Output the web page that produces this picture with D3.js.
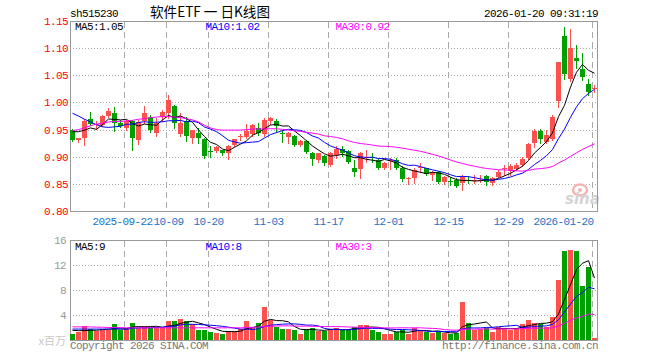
<!DOCTYPE html>
<html><head><meta charset="utf-8">
<script src="https://cdn.jsdelivr.net/npm/d3@7/dist/d3.min.js"></script>
<style>
body{margin:0;background:#fff}
svg{display:block}
.m{font-family:"Liberation Mono","DejaVu Sans Mono",monospace;font-size:11px;letter-spacing:-0.6px}
</style>
</head><body>
<svg id="c" width="660" height="360"></svg>
<script>
// ---------- data ----------
const code = "sh515230";
const title = "软件ETF 一 日K线图";
const stamp = "2026-01-20 09:31:19";

const dates = [
"2025-09-09","2025-09-10","2025-09-11","2025-09-12","2025-09-15","2025-09-16","2025-09-17","2025-09-18","2025-09-19","2025-09-22",
"2025-09-23","2025-09-24","2025-09-25","2025-09-26","2025-09-29","2025-09-30","2025-10-09","2025-10-10","2025-10-13","2025-10-14",
"2025-10-15","2025-10-16","2025-10-17","2025-10-20","2025-10-21","2025-10-22","2025-10-23","2025-10-24","2025-10-27","2025-10-28",
"2025-10-29","2025-10-30","2025-10-31","2025-11-03","2025-11-04","2025-11-05","2025-11-06","2025-11-07","2025-11-10","2025-11-11",
"2025-11-12","2025-11-13","2025-11-14","2025-11-17","2025-11-18","2025-11-19","2025-11-20","2025-11-21","2025-11-24","2025-11-25",
"2025-11-26","2025-11-27","2025-11-28","2025-12-01","2025-12-02","2025-12-03","2025-12-04","2025-12-05","2025-12-08","2025-12-09",
"2025-12-10","2025-12-11","2025-12-12","2025-12-15","2025-12-16","2025-12-17","2025-12-18","2025-12-19","2025-12-22","2025-12-23",
"2025-12-24","2025-12-25","2025-12-26","2025-12-29","2025-12-30","2025-12-31","2026-01-05","2026-01-06","2026-01-07","2026-01-08",
"2026-01-09","2026-01-12","2026-01-13","2026-01-14","2026-01-15","2026-01-16","2026-01-19","2026-01-20"];

const open = [
0.950,0.930,0.935,0.969,0.959,0.959,0.975,0.980,0.962,0.952,
0.966,0.931,0.966,0.973,0.944,0.973,0.981,0.994,0.941,0.966,
0.934,0.944,0.933,0.911,0.910,0.912,0.907,0.921,0.938,0.937,
0.942,0.953,0.941,0.966,0.966,0.944,0.937,0.938,0.922,0.929,
0.907,0.894,0.901,0.885,0.904,0.915,0.910,0.880,0.877,0.899,
0.900,0.894,0.880,0.893,0.894,0.880,0.860,0.860,0.879,0.879,
0.866,0.871,0.854,0.856,0.857,0.851,0.857,0.856,0.857,0.865,
0.851,0.863,0.878,0.874,0.877,0.885,0.897,0.925,0.947,0.928,
0.932,1.002,1.123,1.043,1.082,1.062,1.034,1.025];
const high = [
0.951,0.935,0.970,0.982,0.966,0.976,0.989,0.992,0.967,0.968,
0.968,0.968,0.993,0.977,0.971,0.986,1.013,0.996,0.981,0.974,
0.950,0.952,0.934,0.920,0.919,0.913,0.921,0.932,0.941,0.960,
0.960,0.962,0.972,0.974,0.969,0.949,0.946,0.940,0.931,0.931,
0.909,0.907,0.903,0.909,0.919,0.920,0.912,0.894,0.909,0.912,
0.907,0.897,0.890,0.897,0.897,0.883,0.863,0.879,0.889,0.880,
0.873,0.873,0.865,0.863,0.860,0.866,0.865,0.866,0.866,0.866,
0.863,0.875,0.885,0.887,0.888,0.900,0.926,0.951,0.951,0.949,
0.976,1.075,1.139,1.135,1.106,1.091,1.043,1.032];
const low = [
0.929,0.928,0.922,0.958,0.951,0.957,0.973,0.948,0.954,0.949,
0.912,0.923,0.962,0.946,0.939,0.965,0.972,0.953,0.939,0.929,
0.926,0.926,0.898,0.900,0.908,0.904,0.895,0.920,0.930,0.934,
0.938,0.940,0.938,0.960,0.946,0.928,0.925,0.919,0.920,0.907,
0.885,0.891,0.885,0.883,0.898,0.901,0.889,0.864,0.861,0.891,
0.891,0.878,0.878,0.878,0.878,0.856,0.850,0.851,0.872,0.866,
0.857,0.851,0.849,0.848,0.845,0.839,0.852,0.851,0.854,0.848,
0.848,0.862,0.866,0.866,0.876,0.882,0.895,0.917,0.926,0.926,
0.930,0.991,1.043,1.040,1.063,1.042,1.014,1.020];
const close = [
0.931,0.934,0.966,0.961,0.960,0.975,0.985,0.963,0.956,0.966,
0.934,0.964,0.981,0.949,0.963,0.982,1.005,0.962,0.963,0.938,
0.949,0.935,0.901,0.910,0.918,0.907,0.920,0.932,0.939,0.948,
0.959,0.944,0.968,0.972,0.956,0.943,0.944,0.922,0.929,0.909,
0.895,0.906,0.888,0.907,0.915,0.907,0.891,0.871,0.907,0.900,
0.899,0.880,0.889,0.894,0.880,0.859,0.861,0.875,0.881,0.869,
0.871,0.854,0.863,0.855,0.846,0.863,0.855,0.857,0.858,0.853,
0.861,0.872,0.879,0.882,0.885,0.895,0.924,0.948,0.933,0.940,
0.974,1.074,1.053,1.100,1.077,1.046,1.020,1.026];
// volume, millions
const volume = [
1.04,1.25,2.32,1.79,1.41,1.57,1.57,2.64,1.57,1.79,
2.80,1.95,2.32,1.95,1.95,1.95,2.96,2.96,3.44,2.96,
2.64,1.68,1.68,1.36,1.20,1.04,1.52,1.52,1.79,3.12,
1.95,2.80,5.36,3.28,2.16,1.84,1.84,1.68,1.04,1.84,
2.00,1.41,1.41,1.84,1.95,1.57,1.57,2.16,2.48,2.48,
1.68,1.36,1.04,1.04,1.36,1.68,1.04,1.95,1.62,1.30,
1.09,1.30,1.09,0.99,1.15,6.16,2.80,1.68,1.84,1.95,
1.36,2.16,1.95,1.68,1.95,2.64,3.28,2.80,2.58,2.16,
3.76,9.57,14.32,14.48,14.32,8.72,11.65,0.35];

// moving-average values before each window is complete
const ma5Head  = [0.946,0.946,0.949,0.953];
const ma10Head = [0.980,0.975,0.969,0.964,0.959,0.955,0.954,0.955,0.956];
const ma30Head = [0.948,0.950,0.953,0.957,0.960,0.962,0.964,0.965,0.965,0.966,
                  0.967,0.969,0.970,0.972,0.973,0.974,0.974,0.973,0.972,0.970,
                  0.968,0.964,0.958,0.953,0.950,0.949,0.949,0.949,0.949];
const vma5Head  = [1.55,1.50,1.50,1.55];
const vma10Head = [1.75,1.75,1.75,1.75,1.75,1.75,1.75,1.78,1.80];
const vma30Head = [2.10,2.10,2.10,2.10,2.05,2.05,2.00,2.00,2.00,1.95,
                   1.95,1.95,1.95,1.95,1.95,1.95,1.95,1.95,1.95,1.95,
                   1.95,1.95,1.95,1.95,1.95,1.95,1.95,1.95,1.95];

const priceTicks = [0.80,0.85,0.90,0.95,1.00,1.05,1.10,1.15];
const volTicks = [4,8,12,16];
const tickDates  = ["2025-09-22","2025-10-09","2025-10-20","2025-11-03","2025-11-17","2025-12-01","2025-12-15","2025-12-29","2026-01-20"];
const tickLabels = ["2025-09-22","10-09","10-20","11-03","11-17","12-01","12-15","12-29","2026-01-20"];
const priceLegend = [["MA5",1.05],["MA10",1.02],["MA30",0.92]];
const volLegend = [["MA5",9],["MA10",8],["MA30",3]];

// ---------- drawing ----------
const RED="#ff5050", GREEN="#00a000", MAC=["#000000","#0000ff","#ff00ff"];
const svg = d3.select("#c");
const X0=70, X1=598;
const x = d3.scaleBand().domain(dates).range([X0,X1]).paddingInner(1/6).paddingOuter(1/12);
const px = d => Math.floor(x(d));
const yP = d3.scaleLinear().domain([0.80,1.15]).range([211,21]);
const yV = d3.scaleLinear().domain([0,16]).range([340,240]);
const R = Math.round;

function movAvg(arr,n,head){return arr.map((_,i)=> i<n-1 ? head[i] : d3.mean(arr.slice(i-n+1,i+1)));}
const pMA=[movAvg(close,5,ma5Head),movAvg(close,10,ma10Head),movAvg(close,30,ma30Head)];
const vMA=[movAvg(volume,5,vma5Head),movAvg(volume,10,vma10Head),movAvg(volume,30,vma30Head)];

function panelGrid(top,bottom,hTicks,yS){
  const g=svg.append("g");
  g.selectAll("line.h").data(hTicks).join("line")
    .attr("x1",X0).attr("x2",X1).attr("y1",d=>R(yS(d))+0.5).attr("y2",d=>R(yS(d))+0.5)
    .attr("stroke","#aaa").attr("stroke-dasharray","1,2").attr("shape-rendering","crispEdges");
  g.selectAll("line.v").data(tickDates).join("line")
    .attr("x1",d=>px(d)+0.5).attr("x2",d=>px(d)+0.5).attr("y1",top).attr("y2",bottom)
    .attr("stroke","#aaa").attr("stroke-dasharray","6,4").attr("shape-rendering","crispEdges");
}
panelGrid(22,211,priceTicks.slice(1,-1),yP);
panelGrid(241,340,volTicks.slice(0,-1),yV);

// watermark
const wm=svg.append("g");
wm.append("ellipse").attr("cx",580).attr("cy",190).attr("rx",7).attr("ry",5.5)
  .attr("fill","none").attr("stroke","#f3b4b4").attr("stroke-width",2.5);
wm.append("circle").attr("cx",580).attr("cy",190).attr("r",2).attr("fill","#f3b4b4");
wm.append("text").attr("x",565).attr("y",204).text("sina")
  .attr("font-family","DejaVu Sans").attr("font-size",15).attr("font-weight","bold")
  .attr("font-style","italic").attr("fill","#d4d4d4");

// borders
[[21,190],[240,100]].forEach(([t,h])=>{
  svg.append("rect").attr("x",X0+0.5).attr("y",t+0.5).attr("width",X1-X0-1).attr("height",h)
    .attr("fill","none").attr("stroke","#999").attr("shape-rendering","crispEdges");
});

// candles
const cg=svg.append("g").attr("shape-rendering","crispEdges");
dates.forEach((d,i)=>{
  const col = close[i]>=open[i]?RED:GREEN;
  const cx = px(d)+2.5;
  cg.append("line").attr("x1",cx).attr("x2",cx)
    .attr("y1",R(yP(high[i]))).attr("y2",R(yP(low[i]))+1).attr("stroke",col);
  const top=R(yP(Math.max(open[i],close[i]))), bot=R(yP(Math.min(open[i],close[i])));
  cg.append("rect").attr("x",px(d)).attr("y",top).attr("width",5).attr("height",Math.max(1,bot-top)).attr("fill",col);
});

// volume bars
svg.append("g").attr("shape-rendering","crispEdges").selectAll("rect").data(dates).join("rect")
  .attr("x",d=>px(d)).attr("width",5)
  .attr("y",(d,i)=>R(yV(volume[i]))).attr("height",(d,i)=>340-R(yV(volume[i])))
  .attr("fill",(d,i)=>close[i]>=open[i]?RED:GREEN);

// MA lines
function maLines(series,yS){
  series.forEach((s,k)=>{
    const line=d3.line().x((v,i)=>px(dates[i])+2.5).y(v=>yS(v));
    svg.append("path").attr("d",line(s)).attr("fill","none").attr("stroke",MAC[k]).attr("stroke-width",1);
  });
}
maLines(pMA,yP);
maLines(vMA,yV);

// texts
const T=(xx,yy,s,fill,anchor)=>svg.append("text").attr("class","m").attr("x",xx).attr("y",yy)
   .attr("fill",fill).attr("text-anchor",anchor||"start").text(s);
T(70,17,code,"#000");
svg.append("text").attr("x",150).attr("y",17).attr("textLength",120).attr("lengthAdjust","spacingAndGlyphs")
  .attr("font-family","Noto Sans CJK SC").attr("font-size",14).attr("fill","#000").text(title);
T(598,17,stamp,"#000","end");

const legX=[75,205.5,335.5];
priceLegend.forEach(([n,v],k)=>T(legX[k],30,n+":"+v.toFixed(2),MAC[k]));
volLegend.forEach(([n,v],k)=>T(legX[k],250,n+":"+v,MAC[k]));

priceTicks.forEach(v=>T(68,R(yP(v))+4,v.toFixed(2),"#ff0000","end"));
volTicks.forEach(v=>T(66,R(yV(v))+4,String(v),"#999","end"));
svg.append("text").attr("x",66).attr("y",345).attr("text-anchor","end")
  .attr("font-family","Noto Sans CJK SC").attr("font-size",11).attr("fill","#c8c8c8").text("x百万");

// date labels: centred on their gridline, nudged apart where neighbours would touch
const CW=6;
const lab=tickDates.map((d,k)=>{
  const w=tickLabels[k].length*CW, c=px(d)+0.5;
  return {s:tickLabels[k], w, left: k===tickDates.length-1 ? c+1-w : c-w/2};
});
for(let k=1;k<lab.length;k++){
  const prevRight=lab[k-1].left+lab[k-1].w;
  const gap=lab[k].left-prevRight;
  if(gap<1){const sh=(1-gap)/2; lab[k-1].left-=sh; lab[k].left+=sh;}
}
lab.forEach(l=>T(l.left,225,l.s,"#1a73c8"));

T(70,349,"Copyright 2026 SINA.COM","#777");
T(598,349,"http://finance.sina.com.cn","#777","end");
</script>
</body></html>
